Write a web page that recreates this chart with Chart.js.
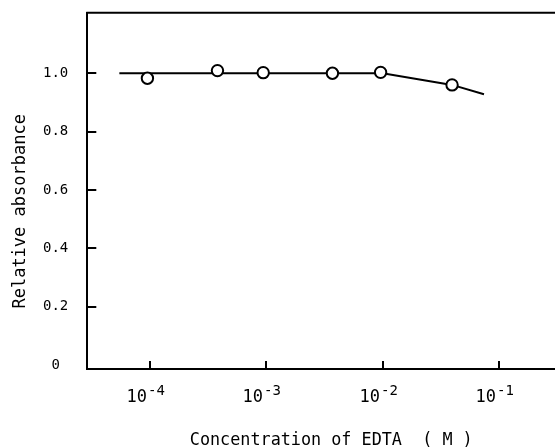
<!DOCTYPE html>
<html><head><meta charset="utf-8">
<script src="https://cdn.jsdelivr.net/npm/chart.js@4/dist/chart.umd.min.js"></script>
<style>html,body{margin:0;padding:0;background:#fff;overflow:hidden}canvas{display:block}</style>
</head><body>
<canvas id="c" width="555" height="448"></canvas>
<script>
const concentrations = [9.5e-5, 3.8e-4, 9.4e-4, 3.7e-3, 9.6e-3, 3.95e-2];
const absorbance = [0.983, 1.009, 1.002, 1.000, 1.003, 0.960];
const curveConcentrations = [5.45e-5, 1.0e-2, 3.95e-2, 7.43e-2];
const curveAbsorbance = [1.0, 1.0, 0.960, 0.928];
const xTickValues = [1e-4, 1e-3, 1e-2, 1e-1];
const xTickBases = ["10", "10", "10", "10"];
const xTickExponents = ["-4", "-3", "-2", "-1"];
const yTickValues = [0, 0.2, 0.4, 0.6, 0.8, 1.0];
const yTickLabels = ["0", "0.2", "0.4", "0.6", "0.8", "1.0"];
const xTitle = "Concentration of EDTA  ( M )";
const yTitle = "Relative absorbance";

const FONT = '"DejaVu Sans Mono", "Liberation Mono", monospace';

function noPad(s) {
  s.paddingTop = 0; s.paddingBottom = 0; s.paddingLeft = 0; s.paddingRight = 0;
}

const framePlugin = {
  id: 'frame',
  afterDraw(chart) {
    const {ctx, chartArea: a, scales: {x, y}} = chart;
    ctx.save();
    ctx.strokeStyle = '#000';
    ctx.lineWidth = 2;
    ctx.beginPath();
    ctx.moveTo(a.left - 1, a.top);
    ctx.lineTo(chart.width, a.top);
    ctx.stroke();
    yTickValues.forEach(v => {
      if (v === 0) return;
      const py = Math.round(y.getPixelForValue(v));
      ctx.beginPath();
      ctx.moveTo(a.left, py);
      ctx.lineTo(a.left + 9, py);
      ctx.stroke();
    });
    ctx.fillStyle = '#000';
    ctx.textBaseline = 'alphabetic';
    xTickValues.forEach((v, i) => {
      const px = Math.round(x.getPixelForValue(v));
      ctx.beginPath();
      ctx.moveTo(px, a.bottom);
      ctx.lineTo(px, a.bottom - 8);
      ctx.stroke();
      ctx.font = '17px ' + FONT;
      ctx.textAlign = 'right';
      ctx.fillText(xTickBases[i], px - 3, a.bottom + 33);
      ctx.font = '14px ' + FONT;
      ctx.textAlign = 'left';
      ctx.fillText(xTickExponents[i], px - 2, a.bottom + 26);
    });
    ctx.restore();
  }
};

new Chart(document.getElementById('c'), {
  type: 'scatter',
  data: {
    datasets: [
      {
        data: concentrations.map((c, i) => ({x: c, y: absorbance[i]})),
        showLine: false,
        pointRadius: 5.7,
        pointHoverRadius: 5.7,
        pointBackgroundColor: '#fff',
        pointBorderColor: '#000',
        pointBorderWidth: 2
      },
      {
        data: curveConcentrations.map((c, i) => ({x: c, y: curveAbsorbance[i]})),
        showLine: true,
        pointRadius: 0,
        pointHoverRadius: 0,
        borderColor: '#000',
        borderWidth: 2,
        tension: 0
      }
    ]
  },
  options: {
    responsive: false,
    animation: false,
    devicePixelRatio: 1,
    layout: {autoPadding: false, padding: {top: 12.7, right: 0, bottom: 0, left: 0}},
    plugins: {legend: {display: false}, tooltip: {enabled: false}},
    scales: {
      x: {
        type: 'logarithmic',
        min: 2.89e-5,
        max: 0.303,
        afterBuildTicks: s => { s.ticks = xTickValues.map(v => ({value: v})); },
        afterFit: s => { s.height = 79; noPad(s); },
        grid: {display: false, drawTicks: false},
        border: {display: true, color: '#000', width: 2},
        ticks: {display: false},
        title: {
          display: true,
          text: '  ' + xTitle,
          color: '#000',
          font: {family: FONT, size: 16.8, lineHeight: 0.9},
          padding: {top: 0, bottom: 0}
        }
      },
      y: {
        min: -0.0137,
        max: 1.2075,
        afterBuildTicks: s => { s.ticks = yTickValues.map(v => ({value: v})); },
        afterFit: s => { s.width = 87.3; noPad(s); },
        grid: {display: false, drawTicks: false},
        border: {display: true, color: '#000', width: 2},
        ticks: {
          color: '#000',
          font: {family: FONT, size: 14},
          padding: 19,
          crossAlign: 'center',
          callback: (v, i) => yTickLabels[i]
        },
        title: {
          display: true,
          text: yTitle + '    ',
          color: '#000',
          font: {family: FONT, size: 17, lineHeight: 1.2},
          padding: {top: 10, bottom: 0}
        }
      }
    }
  },
  plugins: [framePlugin]
});
</script>
</body></html>
